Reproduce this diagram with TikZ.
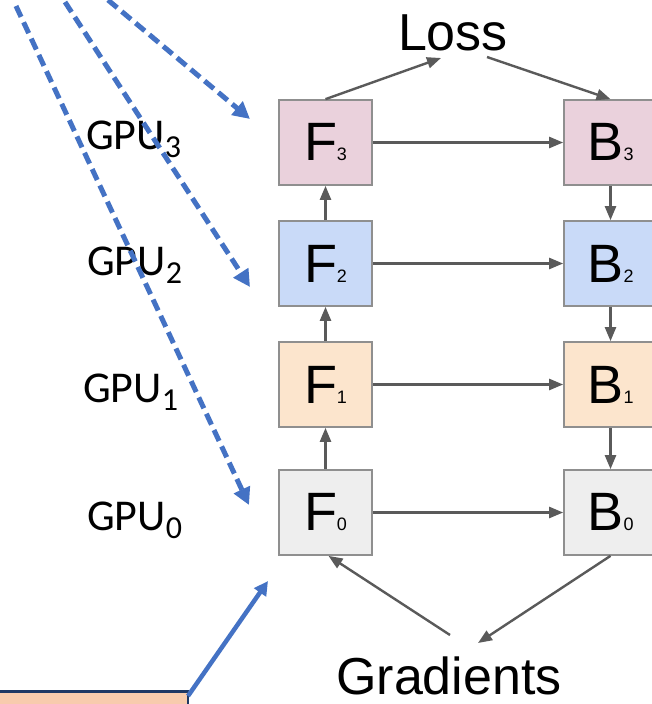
\documentclass[tikz,border=0pt]{standalone}
\usepackage{fontspec}
\setmainfont{Liberation Sans}
\newfontfamily\gpufont{Carlito}
\usetikzlibrary{arrows.meta}
\definecolor{cmauve}{HTML}{EAD1DC}
\definecolor{cblue}{HTML}{C9DAF8}
\definecolor{corange}{HTML}{FCE5CD}
\definecolor{cgray}{HTML}{EEEEEE}
\definecolor{cborder}{HTML}{8F8F8F}
\definecolor{carrow}{HTML}{5A5A5A}
\definecolor{pblue}{HTML}{4472C4}
\definecolor{pfill}{HTML}{F8CBAD}
\definecolor{pnavy}{HTML}{1F3864}
\newcommand\fblabel[2]{{\fontsize{54}{54}\selectfont #1}{\fontsize{18}{18}\selectfont #2}}
\newcommand\gpulabel[1]{{\gpufont\fontsize{44}{44}\selectfont GPU\raisebox{-8pt}{\fontsize{32}{32}\selectfont #1}}}
\tikzset{
  stage/.style={draw=cborder, line width=1.7pt, minimum width=93pt, minimum height=85pt, inner sep=0pt},
  flow/.style={draw=carrow, line width=2.4pt, -{Triangle[length=14pt,width=11pt]}},
  dasharrow/.style={draw=pblue, line width=5pt, dash pattern=on 12pt off 6pt, -{Triangle[length=17pt,width=17pt]}},
  solidarrow/.style={draw=pblue, line width=4.5pt, -{Triangle[length=14pt,width=14pt]}},
  big/.style={inner sep=0pt, font=\fontsize{52}{52}\selectfont},
  gpu/.style={inner sep=0pt, anchor=base west}
}
\begin{document}
\begin{tikzpicture}[x=1pt,y=-1pt]
\useasboundingbox (0,0) rectangle (652,704);
\clip (0,0) rectangle (652,704);
\fill[white] (0,0) rectangle (652,704);

% stages
\node[stage, fill=cmauve]  (F3) at (325.5,142.5) {\fblabel{F}{3}};
\node[stage, fill=cblue]   (F2) at (325.5,263.5) {\fblabel{F}{2}};
\node[stage, fill=corange] (F1) at (325.5,384.5) {\fblabel{F}{1}};
\node[stage, fill=cgray]   (F0) at (325.5,512.5) {\fblabel{F}{0}};
\node[stage, fill=cmauve]  (B3) at (610.5,142.5) {\fblabel{B}{3}};
\node[stage, fill=cblue]   (B2) at (610.5,263.5) {\fblabel{B}{2}};
\node[stage, fill=corange] (B1) at (610.5,384.5) {\fblabel{B}{1}};
\node[stage, fill=cgray]   (B0) at (610.5,512.5) {\fblabel{B}{0}};

% texts
\node[big, anchor=base] (loss) at (453,50) {Loss};
\node[big, anchor=base] (grad) at (449,694) {Gradients};
\node[gpu] (g3) at (86,149) {\gpulabel{3}};
\node[gpu] (g2) at (87,275) {\gpulabel{2}};
\node[gpu] (g1) at (83,402) {\gpulabel{1}};
\node[gpu] (g0) at (87,530) {\gpulabel{0}};

% coordinates for free ends
\coordinate (lossL) at (441,58);
\coordinate (lossR) at (487,57);
\coordinate (gradL) at (450,635);
\coordinate (gradR) at (478,643);

% gray arrows
\draw[flow] (F0) -- (F1);
\draw[flow] (F1) -- (F2);
\draw[flow] (F2) -- (F3);
\draw[flow] (B3) -- (B2);
\draw[flow] (B2) -- (B1);
\draw[flow] (B1) -- (B0);
\draw[flow] (F3) -- (B3);
\draw[flow] (F2) -- (B2);
\draw[flow] (F1) -- (B1);
\draw[flow] (F0) -- (B0);
\draw[flow] (F3.north) -- (lossL);
\draw[flow] (lossR) -- (B3.north);
\draw[flow] (gradL) -- ([xshift=3pt]F0.south);
\draw[flow] (B0.south) -- (gradR);

% blue dashed arrows
\coordinate (sA) at (16,6);
\coordinate (sB) at (65,2);
\coordinate (sC) at (108,0);
\coordinate (tA) at (249,505);
\coordinate (tB) at (250,287);
\coordinate (tC) at (250,119);
\draw[dasharrow] (sA) -- (tA);
\draw[dasharrow] (sB) -- (tB);
\draw[dasharrow] (sC) -- (tC);

% bottom-left box and solid arrow
\node[draw=pnavy, line width=2.5pt, fill=pfill, minimum width=200pt, minimum height=40pt, anchor=north east, inner sep=0pt] (note) at (189,690) {};
\coordinate (tS) at (268,581);
\draw[solidarrow] ([xshift=-1pt,yshift=-6pt]note.north east) -- (tS);
\end{tikzpicture}
\end{document}
